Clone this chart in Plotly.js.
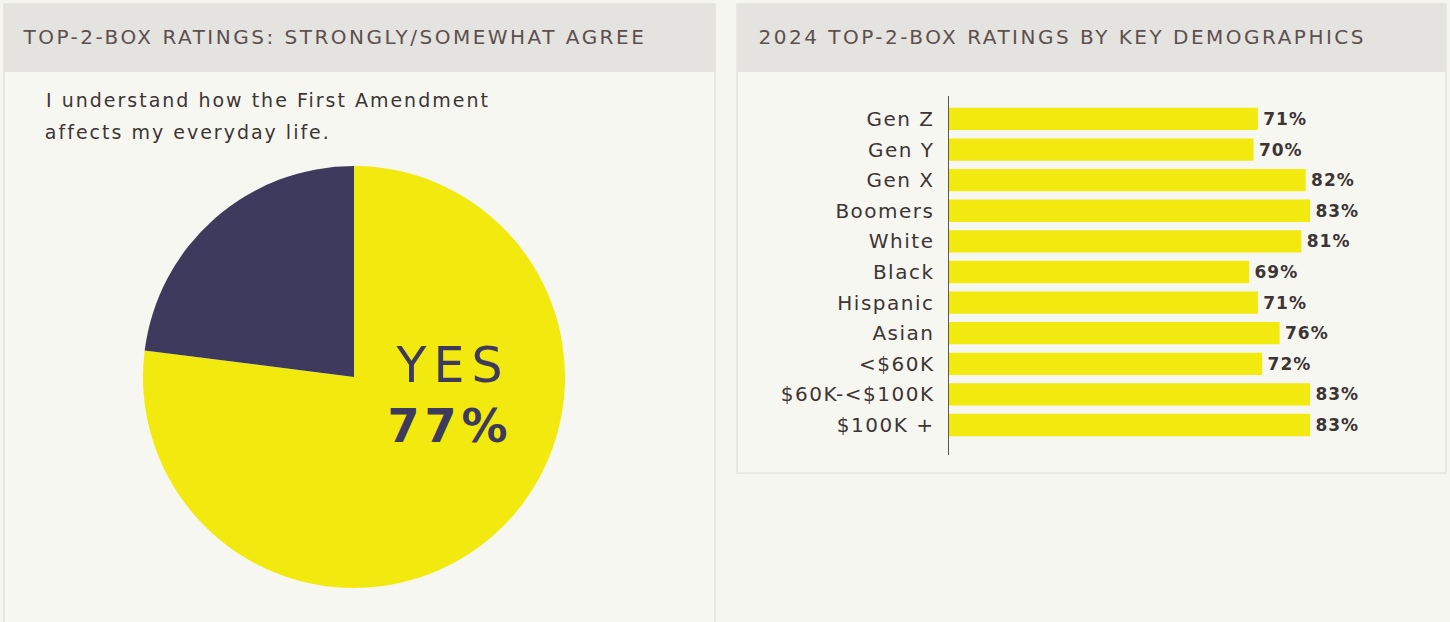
<!DOCTYPE html>
<html>
<head>
<meta charset="utf-8">
<script src="https://cdn.plot.ly/plotly-3.0.1.min.js"></script>
<style>
html,body{margin:0;padding:0;background:#f6f6f0;}
#chart{width:1450px;height:622px;}
#chart .annotation[data-index="0"] text,
#chart .annotation[data-index="1"] text{letter-spacing:2.5px;}
#chart .annotation[data-index="2"] text,
#chart .annotation[data-index="3"] text{letter-spacing:2px;}
#chart .annotation[data-index="4"] text{letter-spacing:7px;}
#chart .annotation[data-index="5"] text{letter-spacing:5px;}
#chart .ytick text{letter-spacing:1.5px;}
#chart text.bartext{letter-spacing:1px;}
</style>
</head>
<body>
<div id="chart"></div>
<script>
// ---- data ----
const pieLabels = ["Yes", "No"];
const pieValues = [77, 23];
const demoCategories = ["Gen Z","Gen Y","Gen X","Boomers","White","Black","Hispanic","Asian","<$60K","$60K-<$100K","$100K +"];
const demoValues = [71, 70, 82, 83, 81, 69, 71, 76, 72, 83, 83];
const leftTitle = "TOP-2-BOX RATINGS: STRONGLY/SOMEWHAT AGREE";
const rightTitle = "2024 TOP-2-BOX RATINGS BY KEY DEMOGRAPHICS";
const questionLines = ["I understand how the First Amendment", "affects my everyday life."];

// ---- geometry helpers (pixel -> paper) ----
const W = 1450, H = 622;
const px = x => x / W;
const py = y => 1 - y / H;

const FONT = "DejaVu Sans";
const YELLOW = "#f2e90f";
const NAVY = "#3d3a5e";
const TXT = "#3d3535";
const HDR = "#5c504e";

const traces = [
  {
    type: "pie",
    labels: pieLabels,
    values: pieValues,
    sort: false,
    direction: "clockwise",
    rotation: 0,
    textinfo: "none",
    hoverinfo: "label+percent",
    marker: {colors: [YELLOW, NAVY], line: {width: 0}},
    domain: {x: [px(143), px(565)], y: [py(588), py(166)]},
    showlegend: false
  },
  {
    type: "bar",
    orientation: "h",
    y: demoCategories,
    x: demoValues,
    marker: {color: YELLOW},
    texttemplate: "\u2009%{x}%",
    textposition: "outside",
    cliponaxis: false,
    textfont: {family: FONT, size: 17, color: TXT, weight: "bold"},
    xaxis: "x",
    yaxis: "y",
    showlegend: false
  }
];

const shapes = [
  // left panel
  {type: "rect", xref: "paper", yref: "paper", x0: px(4), x1: px(715), y0: py(640), y1: py(4),
   line: {color: "#e3e3dd", width: 1.5}, fillcolor: "#f7f7f1", layer: "below"},
  {type: "rect", xref: "paper", yref: "paper", x0: px(4), x1: px(715), y0: py(72), y1: py(4),
   line: {width: 0}, fillcolor: "#e4e3e0", layer: "below"},
  // right panel
  {type: "rect", xref: "paper", yref: "paper", x0: px(737), x1: px(1446), y0: py(473), y1: py(4),
   line: {color: "#e3e3dd", width: 1.5}, fillcolor: "#f7f7f1", layer: "below"},
  {type: "rect", xref: "paper", yref: "paper", x0: px(737), x1: px(1446), y0: py(72), y1: py(4),
   line: {width: 0}, fillcolor: "#e4e3e0", layer: "below"}
];

const annotations = [
  {text: leftTitle, xref: "paper", yref: "paper", x: px(334), y: py(37), xanchor: "center", yanchor: "middle",
   showarrow: false, font: {family: FONT, size: 20, color: HDR}},
  {text: rightTitle, xref: "paper", yref: "paper", x: px(1062), y: py(37), xanchor: "center", yanchor: "middle",
   showarrow: false, font: {family: FONT, size: 20, color: HDR}},
  {text: questionLines[0], xref: "paper", yref: "paper", x: px(268), y: py(100), xanchor: "center", yanchor: "middle",
   showarrow: false, font: {family: FONT, size: 19, color: TXT}},
  {text: questionLines[1], xref: "paper", yref: "paper", x: px(188), y: py(132), xanchor: "center", yanchor: "middle",
   showarrow: false, font: {family: FONT, size: 19, color: TXT}},
  {text: "YES", xref: "paper", yref: "paper", x: px(452), y: py(365), xanchor: "center", yanchor: "middle",
   showarrow: false, font: {family: FONT, size: 49, color: NAVY}},
  {text: "<b>" + pieValues[0] + "%</b>", xref: "paper", yref: "paper", x: px(450), y: py(426), xanchor: "center", yanchor: "middle",
   showarrow: false, font: {family: FONT, size: 46, color: NAVY}}
];

const layout = {
  width: W, height: H,
  margin: {l: 0, r: 0, t: 0, b: 0},
  paper_bgcolor: "#f6f6f0",
  plot_bgcolor: "rgba(0,0,0,0)",
  bargap: 0.27,
  xaxis: {
    domain: [px(949), px(1384)],
    range: [0, 100],
    visible: false,
    fixedrange: true
  },
  yaxis: {
    domain: [py(455), py(96)],
    type: "category",
    range: [10.98, -0.75],
    showline: true,
    linecolor: "#5a5555",
    linewidth: 1.5,
    ticks: "",
    showgrid: false,
    zeroline: false,
    ticklabelstandoff: 9,
    tickfont: {family: FONT, size: 20, color: TXT},
    fixedrange: true
  },
  shapes: shapes,
  annotations: annotations,
  showlegend: false
};

Plotly.newPlot("chart", traces, layout, {displayModeBar: false, staticPlot: true});
</script>
</body>
</html>
